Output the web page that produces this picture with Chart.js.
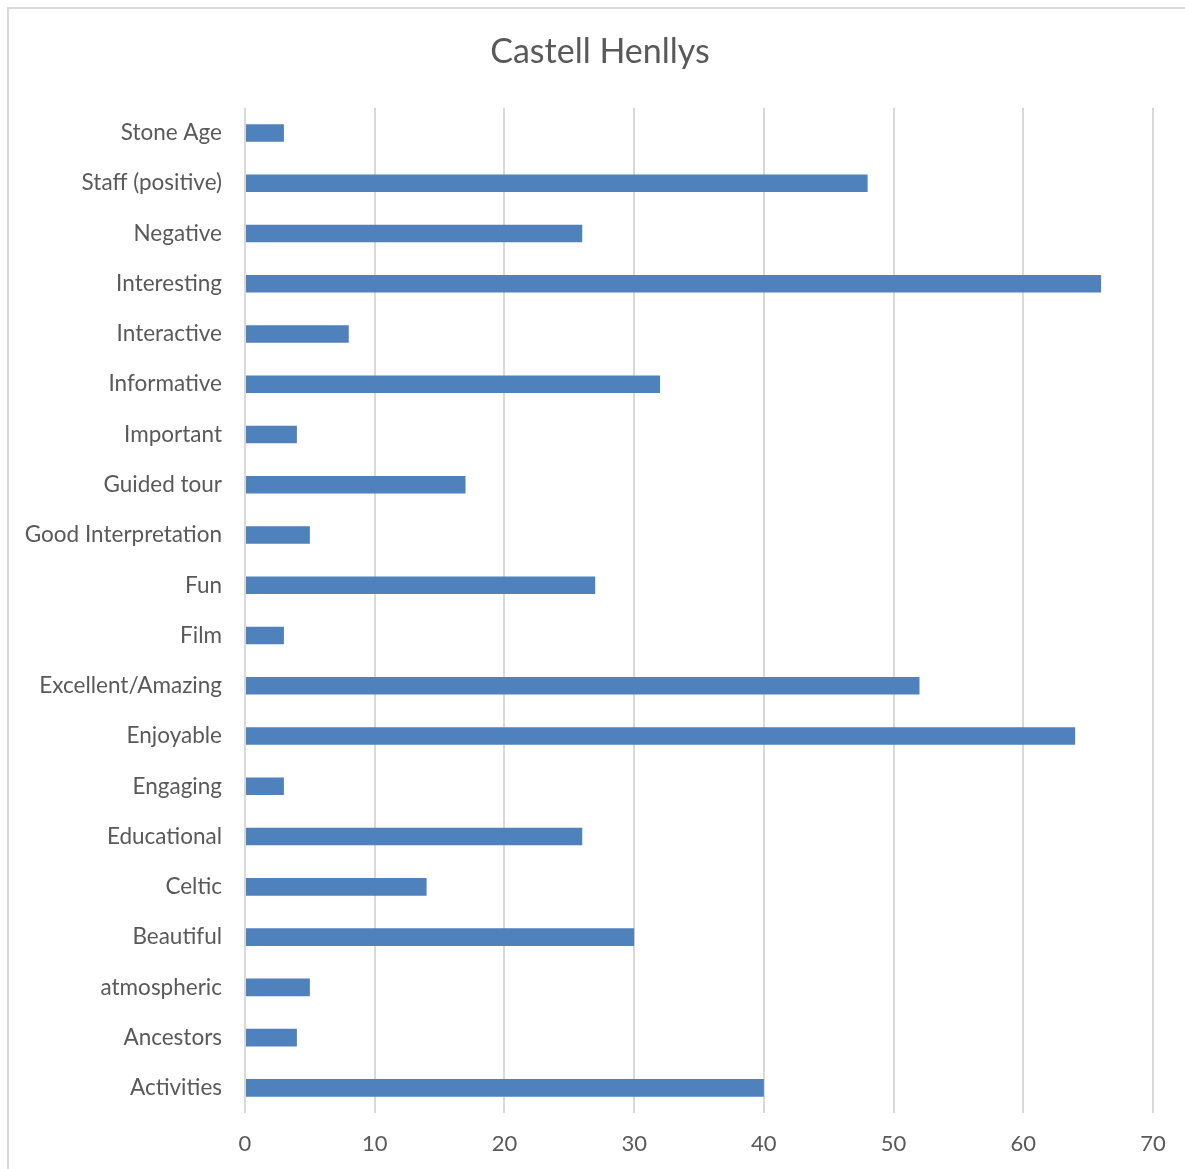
<!DOCTYPE html>
<html>
<head>
<meta charset="utf-8">
<script src="https://cdn.jsdelivr.net/npm/chart.js@4/dist/chart.umd.min.js"></script>
<style>
  html, body { margin: 0; padding: 0; background: #ffffff; }
  #wrap { position: relative; width: 1185px; height: 1169px; overflow: hidden; }
  #frame { position: absolute; left: 7px; top: 7px; width: 1200px; height: 1200px;
           border-left: 2px solid #d9d9d9; border-top: 2px solid #d9d9d9; box-sizing: border-box; }
  canvas { position: absolute; left: 0; top: 0; }
</style>
</head>
<body>
<div id="wrap">
  <div id="frame"></div>
  <canvas id="c" width="1185" height="1169"></canvas>
</div>
<script>
const chartTitle = "Castell Henllys";
const categories = [
  "Stone Age", "Staff (positive)", "Negative", "Interesting", "Interactive",
  "Informative", "Important", "Guided tour", "Good Interpretation", "Fun",
  "Film", "Excellent/Amazing", "Enjoyable", "Engaging", "Educational",
  "Celtic", "Beautiful", "atmospheric", "Ancestors", "Activities"
];
const counts = [3, 48, 26, 66, 8, 32, 4, 17, 5, 27, 3, 52, 64, 3, 26, 14, 30, 5, 4, 40];
const xMin = 0, xMax = 70, xStep = 10;

const fontFamily = "Lato, 'Open Sans', sans-serif";

// Center the title over the whole framed area rather than the padded box.
const titleCenter = {
  id: 'titleCenter',
  afterLayout(chart) {
    const t = chart.titleBlock;
    if (t) {
      t.left = 47;
      t.right = chart.chartArea.right;
      t.width = t.right - t.left;
    }
  }
};

new Chart(document.getElementById('c'), {
  type: 'bar',
  data: {
    labels: categories,
    datasets: [{
      data: counts,
      backgroundColor: '#4f81bd',
      borderWidth: 0,
      barPercentage: 0.35,
      categoryPercentage: 1.0
    }]
  },
  plugins: [titleCenter],
  options: {
    indexAxis: 'y',
    responsive: false,
    animation: false,
    layout: { padding: { top: 0, right: 32, bottom: 14, left: 0 } },
    plugins: {
      legend: { display: false },
      tooltip: { enabled: false },
      title: {
        display: true,
        text: chartTitle,
        color: '#595959',
        font: { family: fontFamily, size: 34, weight: 'normal' },
        padding: { top: 32, bottom: 35 }
      }
    },
    scales: {
      x: {
        min: xMin, max: xMax,
        ticks: { stepSize: xStep, color: '#595959', font: { family: fontFamily, size: 22 }, padding: 18 },
        grid: { color: '#d9d9d9', lineWidth: 2, drawTicks: false },
        border: { display: false },
        afterFit: (s) => { s.height = 42; }
      },
      y: {
        ticks: { color: '#595959', font: { family: fontFamily, size: 22.5 }, padding: 23, autoSkip: false },
        grid: { display: false, drawTicks: false },
        border: { display: false },
        afterFit: (s) => { s.width = 245; }
      }
    }
  }
});
</script>
</body>
</html>
